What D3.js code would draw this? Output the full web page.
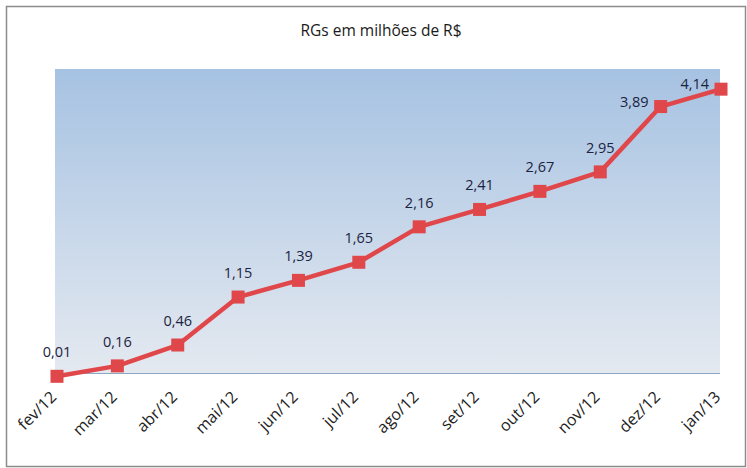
<!DOCTYPE html>
<html>
<head>
<meta charset="utf-8">
<script src="https://cdn.jsdelivr.net/npm/d3@7"></script>
<style>
  body { margin: 0; background: #fff; }
  text { font-family: "Open Sans", sans-serif; }
</style>
</head>
<body>
<svg id="chart"></svg>
<script>
// chart data
const months = ["fev/12", "mar/12", "abr/12", "mai/12", "jun/12", "jul/12",
                "ago/12", "set/12", "out/12", "nov/12", "dez/12", "jan/13"];
const values = [0.01, 0.16, 0.46, 1.15, 1.39, 1.65, 2.16, 2.41, 2.67, 2.95, 3.89, 4.14];
const title = "RGs em milhões de R$";

const width = 747, height = 468;
const plot = { left: 55, right: 720, top: 69, bottom: 373 };

const svg = d3.select("#chart")
    .attr("width", width)
    .attr("height", height);

// outer chart border
svg.append("rect")
    .attr("x", 6.5).attr("y", 6.5)
    .attr("width", 739).attr("height", 460)
    .attr("fill", "#fff")
    .attr("stroke", "#8c8c8c")
    .attr("stroke-width", 1.5);

// plot area gradient
const grad = svg.append("defs").append("linearGradient")
    .attr("id", "plotGrad")
    .attr("x1", 0).attr("y1", 0).attr("x2", 0).attr("y2", 1);
grad.append("stop").attr("offset", "0%").attr("stop-color", "#a6c2e2");
grad.append("stop").attr("offset", "55%").attr("stop-color", "#c9d8ea");
grad.append("stop").attr("offset", "100%").attr("stop-color", "#e4e9f0");

svg.append("rect")
    .attr("x", plot.left).attr("y", plot.top)
    .attr("width", plot.right - plot.left)
    .attr("height", plot.bottom - plot.top)
    .attr("fill", "url(#plotGrad)");

// scales
const xScale = d3.scalePoint()
    .domain(months)
    .range([57, 721]);

const yScale = d3.scaleLinear()
    .domain([0, 4.43])
    .range([377, plot.top]);

// category axis
const xAxis = g => {
    g.attr("transform", `translate(0, ${plot.bottom})`)
        .call(d3.axisBottom(xScale).tickSize(0).tickPadding(0))
        .call(g => g.select(".domain").remove());
};

svg.append("line")
    .attr("x1", plot.left).attr("x2", plot.right)
    .attr("y1", plot.bottom + 0.5).attr("y2", plot.bottom + 0.5)
    .attr("stroke", "#8da7c4")
    .attr("stroke-width", 1.2);

svg.append("g").call(xAxis).selectAll("text")
    .attr("font-family", "'Open Sans', sans-serif")
    .attr("font-size", 16)
    .attr("fill", "#222")
    .style("text-anchor", "end")
    .attr("dx", "0")
    .attr("dy", "0")
    .attr("transform", "translate(0, 25) rotate(-45)");

// title
svg.append("text")
    .attr("x", 381)
    .attr("y", 36)
    .attr("text-anchor", "middle")
    .attr("font-size", 15.5)
    .attr("fill", "#1a1a1a")
    .text(title);

// line
const data = months.map((m, i) => ({ name: m, value: values[i] }));
const red = "#e0474a";

const line = d3.line()
    .x(d => xScale(d.name))
    .y(d => yScale(d.value));

svg.append("path")
    .datum(data)
    .attr("fill", "none")
    .attr("stroke", red)
    .attr("stroke-width", 4.5)
    .attr("stroke-linejoin", "round")
    .attr("d", line);

// square markers
const m = 13;
svg.append("g")
    .selectAll("rect")
    .data(data)
    .enter()
    .append("rect")
    .attr("x", d => xScale(d.name) - m / 2)
    .attr("y", d => yScale(d.value) - m / 2)
    .attr("width", m)
    .attr("height", m)
    .attr("fill", red);

// data labels (last two sit to the left of the point)
const fmt = v => d3.format(".2f")(v).replace(".", ",");
const n = data.length;
svg.append("g")
    .selectAll("text")
    .data(data)
    .enter()
    .append("text")
    .attr("font-size", 14.5)
    .attr("fill", "#1c2340")
    .attr("text-anchor", (d, i) => i >= n - 2 ? "end" : "middle")
    .attr("x", (d, i) => xScale(d.name) + (i >= n - 2 ? -12 : 0))
    .attr("y", (d, i) => yScale(d.value) + (i >= n - 2 ? 0 : -19))
    .text(d => fmt(d.value));
</script>
</body>
</html>
